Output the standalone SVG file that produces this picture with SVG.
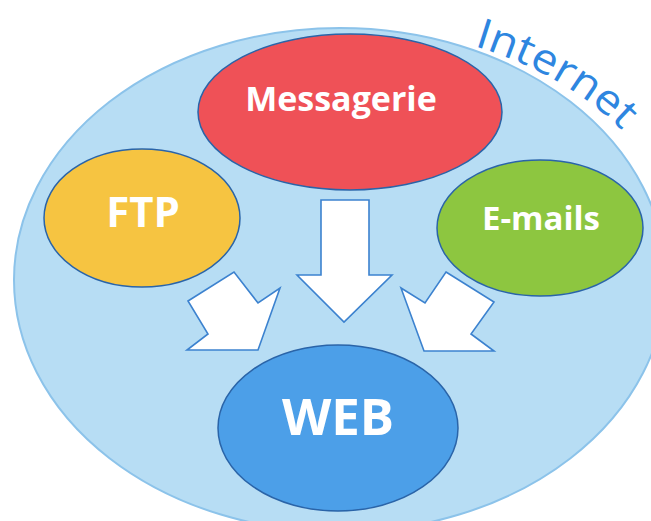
<svg xmlns="http://www.w3.org/2000/svg" width="651" height="521" viewBox="0 0 651 521">
  <style>
    .node { stroke: #2a64a8; stroke-width: 1.5; }
    .lbl { font-family: "Open Sans", "Liberation Sans", sans-serif; font-weight: 700; fill: #ffffff; text-anchor: middle; }
    .arrow { fill: #ffffff; stroke: #3c82cf; stroke-width: 1.6; stroke-linejoin: miter; }
  </style>
  <defs>
    <path id="netArc" d="M 474 46 A 350 252 0 0 1 640 150" fill="none"/>
  </defs>
  <rect width="651" height="521" fill="#ffffff"/>
  <g id="internet">
    <ellipse cx="340" cy="280" rx="326" ry="252" fill="#b7ddf4" stroke="#8cc3ea" stroke-width="2"/>
    <text font-family="'Open Sans', 'Liberation Sans', sans-serif" font-size="42" fill="#2e86e0"><textPath href="#netArc" textLength="172" lengthAdjust="spacingAndGlyphs">Internet</textPath></text>
  </g>
  <g id="connectors">
    <polygon class="arrow" points="321,200 369,200 369,275 392,275 344,322 297,275 321,275"/>
    <polygon class="arrow" points="188,301 234,272 258,303 280,288 258,350 187,350 208,334"/>
    <polygon class="arrow" points="446,272 494,302 471,334 494,351 424,351 401,288 425,303"/>
  </g>
  <g id="messagerie">
    <ellipse class="node" cx="350" cy="112" rx="152" ry="78" fill="#ef5157"/>
    <text class="lbl" x="341" y="111" font-size="34">Messagerie</text>
  </g>
  <g id="ftp">
    <ellipse class="node" cx="142" cy="218" rx="98" ry="69" fill="#f6c441"/>
    <text class="lbl" x="143" y="227" font-size="42">FTP</text>
  </g>
  <g id="emails">
    <ellipse class="node" cx="540" cy="228" rx="103" ry="68" fill="#8dc640"/>
    <text class="lbl" x="541" y="230" font-size="33">E-mails</text>
  </g>
  <g id="web">
    <ellipse class="node" cx="338" cy="428" rx="120" ry="83" fill="#4c9fe8"/>
    <text class="lbl" x="338" y="435" font-size="51">WEB</text>
  </g>
</svg>
